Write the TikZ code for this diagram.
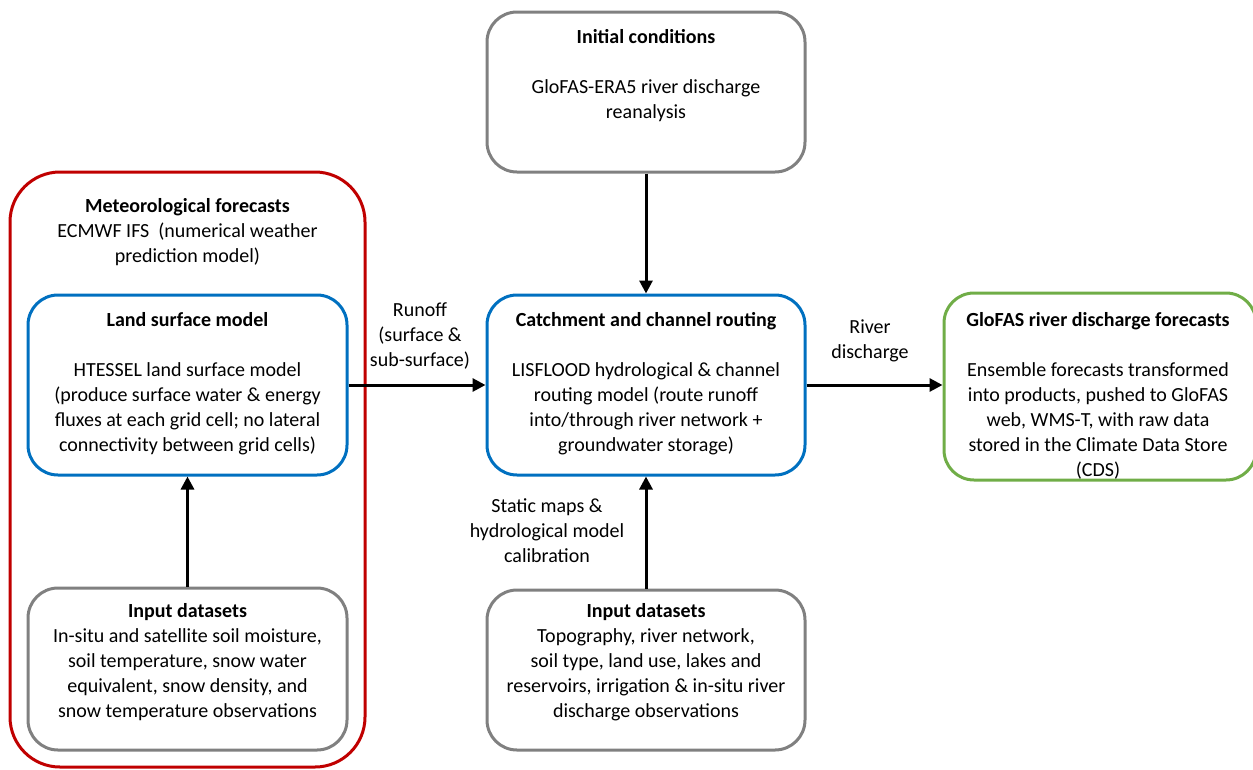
\documentclass[tikz,border=0pt]{standalone}
\usepackage{fontspec}
\setmainfont{Carlito}
\usetikzlibrary{arrows.meta}
\definecolor{boxred}{HTML}{C00000}
\definecolor{boxblue}{HTML}{0070C0}
\definecolor{boxgray}{HTML}{808080}
\definecolor{boxgreen}{HTML}{70AD47}

\tikzset{
    box/.style = {draw, rectangle, rounded corners = 30pt, line width = 3pt, inner sep = 0pt},
    txt/.style = {anchor = north, align = center, inner sep = 0pt, font = \fontsize{20}{25}\selectfont},
    link/.style = {-{Triangle[length = 13pt, width = 13pt]}, line width = 3pt, color = black}
}

\begin{document}
\begin{tikzpicture}[x = 1pt, y = -1pt]
        \useasboundingbox (0, 0) rectangle (1253, 769);

        % Boxes
        \node [box, draw = boxred, rounded corners = 50pt, minimum width = 355pt, minimum height = 595pt] (met) at (187.5, 469.5) {};
        \node [box, draw = boxblue, minimum width = 319pt, minimum height = 180pt] (land) at (187.5, 385) {};
        \node [box, draw = boxgray, minimum width = 319pt, minimum height = 162pt] (inleft) at (187.5, 669) {};
        \node [box, draw = boxgray, minimum width = 318pt, minimum height = 160pt] (init) at (646, 92) {};
        \node [box, draw = boxblue, minimum width = 318pt, minimum height = 180pt] (catch) at (646, 385) {};
        \node [box, draw = boxgray, minimum width = 318pt, minimum height = 160pt] (incenter) at (646, 670) {};
        \node [box, draw = boxgreen, minimum width = 312pt, minimum height = 187pt] (glofas) at (1100, 386.5) {};

        % Box texts
        \node [txt] (mettext) at (187.5, 198) {\textbf{Meteorological forecasts}\\ECMWF IFS\ \ (numerical weather\\prediction model)};
        \node [txt] (landtext) at (187.5, 312) {\textbf{Land surface model}\\[25pt]HTESSEL land surface model\\(produce surface water \& energy\\fluxes at each grid cell; no lateral\\connectivity between grid cells)};
        \node [txt] (inlefttext) at (187.5, 603) {\textbf{Input datasets}\\In-situ and satellite soil moisture,\\soil temperature, snow water\\equivalent, snow density, and\\snow temperature observations};
        \node [txt] (inittext) at (646, 29) {\textbf{Initial conditions}\\[25pt]GloFAS-ERA5 river discharge\\reanalysis};
        \node [txt] (catchtext) at (646, 312) {\textbf{Catchment and channel routing}\\[25pt]LISFLOOD hydrological \& channel\\routing model (route runoff\\into/through river network +\\groundwater storage)};
        \node [txt] (incentertext) at (646, 603) {\textbf{Input datasets}\\Topography, river network,\\soil type, land use, lakes and\\reservoirs, irrigation \& in-situ river\\discharge observations};
        \node [txt] (glofastext) at (1098, 312) {\textbf{GloFAS river discharge forecasts}\\[25pt]Ensemble forecasts transformed\\into products, pushed to GloFAS\\web, WMS-T, with raw data\\stored in the Climate Data Store\\(CDS)};

        % Draw the links
        \draw [link] (land.east) -- (catch.west);
        \draw [link] (catch.east) -- (catch.east -| glofas.west);
        \draw [link] (init.south) -- (catch.north);
        \draw [link] (incenter.north) -- (catch.south);
        \draw [link] (inleft.north) -- (land.south);

        % Link labels
        \node [txt] (runoff) at (420, 302) {Runoff\\(surface \&\\sub-surface)};
        \node [txt] (discharge) at (870, 320) {River\\discharge};
        \node [txt] (static) at (547, 498) {Static maps \&\\hydrological model\\calibration};

    \end{tikzpicture}
\end{document}
